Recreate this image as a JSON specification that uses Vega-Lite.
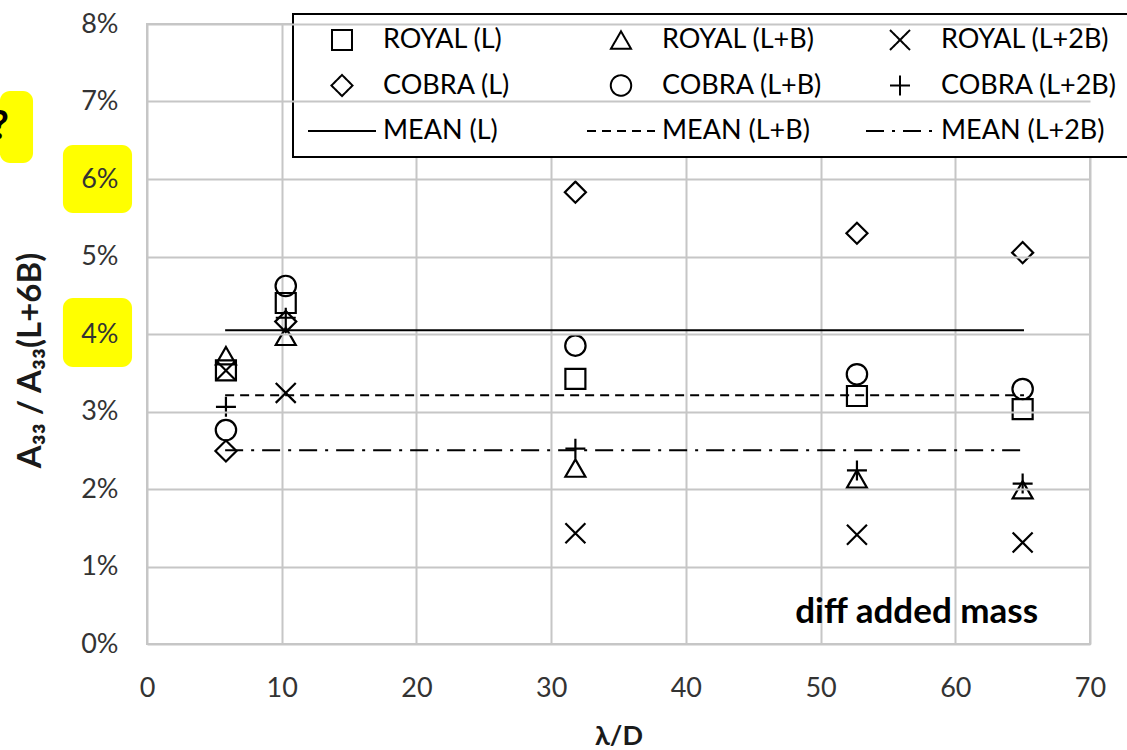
{
  "$schema": "https://vega.github.io/schema/vega-lite/v6.json",
  "width": 943,
  "height": 620,
  "autosize": {"type": "none"},
  "padding": {"left": 147, "top": 24, "right": 37, "bottom": 106},
  "background": "white",
  "config": {
    "font": "Lato",
    "view": {"stroke": "#c6c6c6", "strokeWidth": 2},
    "legend": {"strokeWidth": 2},
    "axis": {
      "domain": false,
      "ticks": false,
      "grid": true,
      "gridColor": "#c6c6c6",
      "gridWidth": 2,
      "labelFlush": false,
      "labelFont": "Lato",
      "labelFontSize": 27,
      "labelColor": "#333333",
      "titleFont": "Lato",
      "titleFontWeight": "bold",
      "titleColor": "#1a1a1a"
    }
  },
  "datasets": {
    "points": [
      {"lambda": 5.86, "ratio": 0.0353, "series": "ROYAL (L)"},
      {"lambda": 10.3, "ratio": 0.0440, "series": "ROYAL (L)"},
      {"lambda": 31.8, "ratio": 0.0342, "series": "ROYAL (L)"},
      {"lambda": 52.7, "ratio": 0.0320, "series": "ROYAL (L)"},
      {"lambda": 65.0, "ratio": 0.0303, "series": "ROYAL (L)"},
      {"lambda": 5.86, "ratio": 0.0372, "series": "ROYAL (L+B)"},
      {"lambda": 10.3, "ratio": 0.0397, "series": "ROYAL (L+B)"},
      {"lambda": 31.8, "ratio": 0.0227, "series": "ROYAL (L+B)"},
      {"lambda": 52.7, "ratio": 0.0213, "series": "ROYAL (L+B)"},
      {"lambda": 65.0, "ratio": 0.0199, "series": "ROYAL (L+B)"},
      {"lambda": 5.86, "ratio": 0.0353, "series": "ROYAL (L+2B)"},
      {"lambda": 10.3, "ratio": 0.0324, "series": "ROYAL (L+2B)"},
      {"lambda": 31.8, "ratio": 0.0143, "series": "ROYAL (L+2B)"},
      {"lambda": 52.7, "ratio": 0.0141, "series": "ROYAL (L+2B)"},
      {"lambda": 65.0, "ratio": 0.0131, "series": "ROYAL (L+2B)"},
      {"lambda": 5.86, "ratio": 0.0249, "series": "COBRA (L)"},
      {"lambda": 10.3, "ratio": 0.0416, "series": "COBRA (L)"},
      {"lambda": 31.8, "ratio": 0.0583, "series": "COBRA (L)"},
      {"lambda": 52.7, "ratio": 0.0530, "series": "COBRA (L)"},
      {"lambda": 65.0, "ratio": 0.0505, "series": "COBRA (L)"},
      {"lambda": 5.86, "ratio": 0.0276, "series": "COBRA (L+B)"},
      {"lambda": 10.3, "ratio": 0.0462, "series": "COBRA (L+B)"},
      {"lambda": 31.8, "ratio": 0.0385, "series": "COBRA (L+B)"},
      {"lambda": 52.7, "ratio": 0.0348, "series": "COBRA (L+B)"},
      {"lambda": 65.0, "ratio": 0.0329, "series": "COBRA (L+B)"},
      {"lambda": 5.86, "ratio": 0.0306, "series": "COBRA (L+2B)"},
      {"lambda": 10.3, "ratio": 0.0421, "series": "COBRA (L+2B)"},
      {"lambda": 31.8, "ratio": 0.0252, "series": "COBRA (L+2B)"},
      {"lambda": 52.7, "ratio": 0.0224, "series": "COBRA (L+2B)"},
      {"lambda": 65.0, "ratio": 0.0207, "series": "COBRA (L+2B)"}
    ],
    "means": [
      {"lambda": 5.8, "ratio": 0.0405, "series": "MEAN (L)"},
      {"lambda": 65.1, "ratio": 0.0405, "series": "MEAN (L)"},
      {"lambda": 5.8, "ratio": 0.0321, "series": "MEAN (L+B)"},
      {"lambda": 65.1, "ratio": 0.0321, "series": "MEAN (L+B)"},
      {"lambda": 5.8, "ratio": 0.0250, "series": "MEAN (L+2B)"},
      {"lambda": 65.1, "ratio": 0.0250, "series": "MEAN (L+2B)"}
    ],
    "highlights": [
      {"lambda": -6.24, "lambda2": -1.11, "ratio": 0.05561, "ratio2": 0.06439},
      {"lambda": -6.24, "lambda2": -1.11, "ratio": 0.03574, "ratio2": 0.04465},
      {"lambda": -10.92, "lambda2": -8.46, "ratio": 0.06206, "ratio2": 0.07135}
    ],
    "question": [
      {"lambda": -10.25, "ratio": 0.0667, "label": "?"}
    ],
    "note": [
      {"lambda": 66.15, "ratio": 0.00271, "label": "diff added mass"}
    ]
  },
  "encoding": {
    "x": {
      "field": "lambda",
      "type": "quantitative",
      "scale": {"domain": [0, 70], "nice": false, "zero": false},
      "axis": {
        "values": [0, 10, 20, 30, 40, 50, 60, 70],
        "title": "λ/D",
        "titleFontSize": 27,
        "labelPadding": 31,
        "titlePadding": 22
      }
    },
    "y": {
      "field": "ratio",
      "type": "quantitative",
      "scale": {"domain": [0, 0.08], "nice": false},
      "axis": {
        "values": [0, 0.01, 0.02, 0.03, 0.04, 0.05, 0.06, 0.07, 0.08],
        "format": ".0%",
        "title": "A₃₃ / A₃₃(L+6B)",
        "titleFontSize": 33,
        "titleX": -107,
        "titleY": 336,
        "titleAngle": 270,
        "titleAlign": "center",
        "titleBaseline": "alphabetic",
        "labelPadding": 29,
        "zindex": 1
      }
    }
  },
  "layer": [
    {
      "data": {"name": "highlights"},
      "mark": {"type": "rect", "fill": "#ffff00", "cornerRadius": 10, "clip": false},
      "encoding": {
        "x2": {"field": "lambda2"},
        "y2": {"field": "ratio2"}
      }
    },
    {
      "data": {"name": "question"},
      "mark": {"type": "text", "align": "right", "baseline": "middle", "font": "Lato", "fontWeight": "bold", "fontSize": 40, "color": "black", "clip": false},
      "encoding": {"text": {"field": "label"}}
    },
    {
      "data": {"name": "means"},
      "mark": {"type": "line", "stroke": "black", "strokeWidth": 2},
      "encoding": {
        "strokeDash": {
          "field": "series",
          "type": "nominal",
          "scale": {
            "domain": ["ROYAL (L)", "ROYAL (L+B)", "ROYAL (L+2B)", "COBRA (L)", "COBRA (L+B)", "COBRA (L+2B)", "MEAN (L)", "MEAN (L+B)", "MEAN (L+2B)"],
            "range": [[1, 0], [1, 0], [1, 0], [1, 0], [1, 0], [1, 0], [1, 0], [9, 6], [18, 8, 3, 8]]
          },
          "legend": {
            "orient": "none", "legendX": 146, "legendY": -10,
            "direction": "horizontal", "columns": 3, "gridAlign": "all",
            "title": null, "padding": 12,
            "strokeColor": "black", "fillColor": "white",
            "labelFont": "Lato", "labelFontSize": 27, "labelColor": "black", "labelOffset": 6, "labelLimit": 300,
            "symbolOffset": 2, "clipHeight": 28, "rowPadding": 17.5, "columnPadding": 25,
            "symbolSize": 4624,
            "symbolStrokeColor": "black", "symbolFillColor": "transparent", "symbolStrokeWidth": 2
          }
        }
      }
    },
    {
      "data": {"name": "points"},
      "mark": {"type": "point", "filled": false, "stroke": "black", "strokeWidth": 2.2, "size": 4624, "opacity": 1},
      "encoding": {
        "shape": {
          "field": "series",
          "type": "nominal",
          "scale": {
            "domain": ["ROYAL (L)", "ROYAL (L+B)", "ROYAL (L+2B)", "COBRA (L)", "COBRA (L+B)", "COBRA (L+2B)", "MEAN (L)", "MEAN (L+B)", "MEAN (L+2B)"],
            "range": [
              "M-0.294,-0.294L0.294,-0.294L0.294,0.294L-0.294,0.294Z",
              "M0,-0.255L0.294,0.255L-0.294,0.255Z",
              "M-0.294,-0.294L0.294,0.294M-0.294,0.294L0.294,-0.294",
              "M0,-0.31L0.31,0L0,0.31L-0.31,0Z",
              "M-0.3,0A0.3,0.3,0,1,0,0.3,0A0.3,0.3,0,1,0,-0.3,0Z",
              "M-0.294,0L0.294,0M0,-0.294L0,0.294",
              "M-1,0L1,0",
              "M-1,0L1,0",
              "M-1,0L1,0"
            ]
          },
          "legend": {
            "orient": "none", "legendX": 146, "legendY": -10,
            "direction": "horizontal", "columns": 3, "gridAlign": "all",
            "title": null, "padding": 12,
            "strokeColor": "black", "fillColor": "white",
            "labelFont": "Lato", "labelFontSize": 27, "labelColor": "black", "labelOffset": 6, "labelLimit": 300,
            "symbolOffset": 2, "clipHeight": 28, "rowPadding": 17.5, "columnPadding": 25,
            "symbolSize": 4624,
            "symbolStrokeColor": "black", "symbolFillColor": "transparent", "symbolStrokeWidth": 2
          }
        }
      }
    },
    {
      "data": {"name": "note"},
      "mark": {"type": "text", "align": "right", "baseline": "alphabetic", "font": "Lato", "fontWeight": "bold", "fontSize": 35, "color": "black"},
      "encoding": {"text": {"field": "label"}}
    }
  ]
}
